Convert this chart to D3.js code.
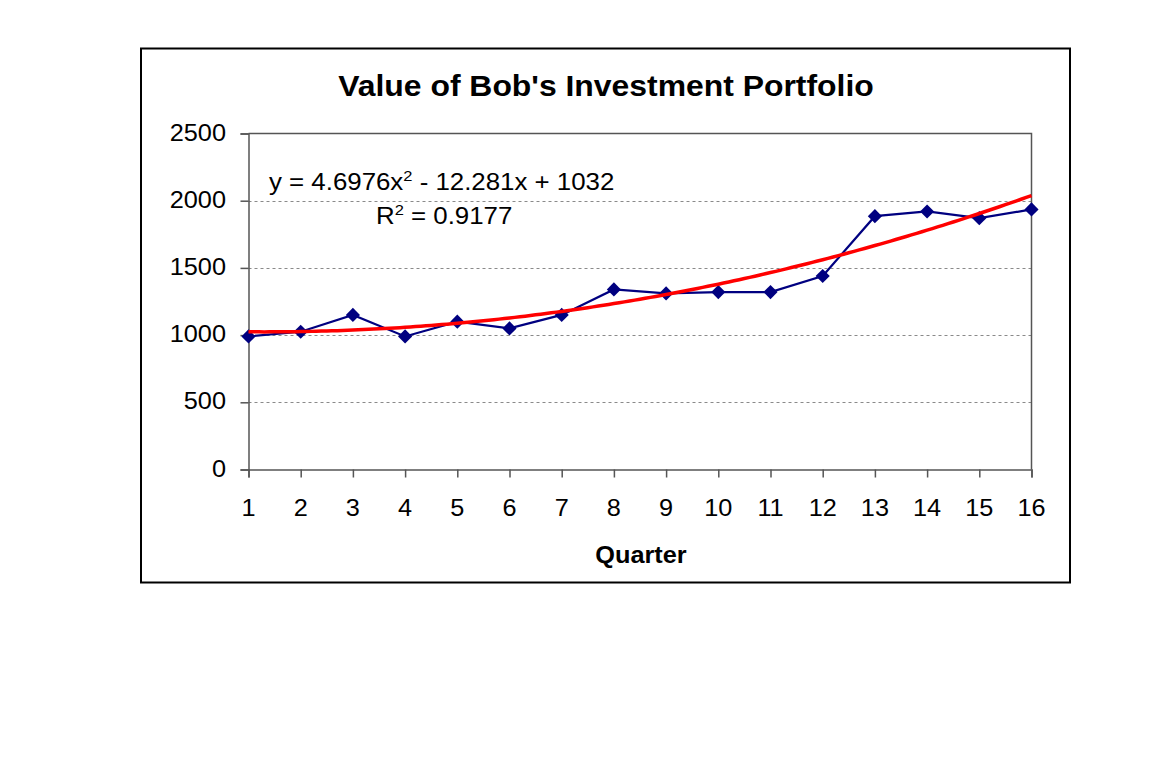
<!DOCTYPE html>
<html><head><meta charset="utf-8">
<script src="https://cdn.jsdelivr.net/npm/d3@7"></script>
<style>body{margin:0;background:#fff}svg{display:block}text{font-family:"Liberation Sans",Arial,sans-serif;fill:#000}</style>
</head><body>
<script>
const quarters = [1,2,3,4,5,6,7,8,9,10,11,12,13,14,15,16];
const values = [990,1025,1150,990,1100,1050,1150,1340,1310,1320,1320,1440,1885,1920,1870,1935];
const yTicks = [0,500,1000,1500,2000,2500];
const trendCoef = [1032,-12.281,4.6976]; // c0 + c1 x + c2 x^2
const titleText = "Value of Bob's Investment Portfolio";
const xTitle = "Quarter";

const W = 1172, H = 766, SX = 1.1;
const svg = d3.select("body").append("svg").attr("width",W).attr("height",H);

// outer frame
svg.append("rect").attr("x",141).attr("y",48.5).attr("width",929).attr("height",534)
  .attr("fill","#fff").attr("stroke","#000").attr("stroke-width",2);

const x = d3.scaleLinear().domain([1,16]).range([248.5,1031.5]);
const y = d3.scaleLinear().domain([0,2500]).range([469.5,133.5]);

function stext(px,py,str,size,anchor,weight){
  return svg.append("text").attr("transform",`translate(${px},${py}) scale(${SX},1)`)
    .attr("text-anchor",anchor||"middle").attr("font-size",size).attr("font-weight",weight||"normal").text(str);
}

// gridlines
svg.append("g").selectAll("line").data(yTicks.filter(d=>d>0&&d<2500)).join("line")
  .attr("x1",x(1)).attr("x2",x(16)).attr("y1",d=>Math.round(y(d))+0.5).attr("y2",d=>Math.round(y(d))+0.5)
  .attr("stroke","#8a8a8a").attr("stroke-width",1.2).attr("stroke-dasharray","3,3");

// plot border (top & right)
svg.append("path").attr("d",`M${x(1)},${y(2500)}H${x(16)}V${y(0)}`).attr("fill","none")
  .attr("stroke","#555").attr("stroke-width",1.5);

// axes
const yAxis = d3.axisLeft(y).tickValues(yTicks).tickSize(8).tickFormat("");
svg.append("g").attr("transform",`translate(${x(1)},0)`).call(yAxis)
  .call(g=>g.selectAll("line,path").attr("stroke","#555").attr("stroke-width",1.5));
const xAxis = d3.axisBottom(x).tickValues(quarters).tickSize(8).tickSizeOuter(8).tickFormat("");
svg.append("g").attr("transform",`translate(0,${y(0)})`).call(xAxis)
  .call(g=>g.selectAll("line,path").attr("stroke","#555").attr("stroke-width",1.5));

// tick labels
yTicks.forEach(t=>stext(226,y(t)+7,String(t),23,"end"));
quarters.forEach(q=>stext(x(q),516,String(q),23,"middle"));

// titles
stext(606,96,titleText,29,"middle","bold");
stext(641,563,xTitle,23,"middle","bold");

// data line
svg.append("path").datum(quarters.map((q,i)=>[q,values[i]]))
  .attr("d",d3.line().x(d=>x(d[0])).y(d=>y(d[1])))
  .attr("fill","none").attr("stroke","#000080").attr("stroke-width",2.2);

// markers
svg.append("g").selectAll("path").data(quarters.map((q,i)=>[q,values[i]])).join("path")
  .attr("transform",d=>`translate(${x(d[0])},${y(d[1])}) rotate(45)`)
  .attr("d",d3.symbol(d3.symbolSquare,100)).attr("fill","#000080");

// trendline
const tx = d3.range(1,16.001,0.1);
svg.append("path").datum(tx.map(v=>[v,trendCoef[0]+trendCoef[1]*v+trendCoef[2]*v*v]))
  .attr("d",d3.line().x(d=>x(d[0])).y(d=>y(d[1])))
  .attr("fill","none").attr("stroke","#ff0000").attr("stroke-width",3.5);

// equation
const eq = svg.append("text").attr("transform",`translate(269,190) scale(${SX},1)`).attr("font-size",23.5);
eq.append("tspan").text("y = 4.6976x");
eq.append("tspan").attr("font-size",15).attr("dy",-9).text("2");
eq.append("tspan").attr("dy",9).text(" - 12.281x + 1032");
const r2 = svg.append("text").attr("transform",`translate(376,224) scale(${SX},1)`).attr("font-size",23.5);
r2.append("tspan").text("R");
r2.append("tspan").attr("font-size",15).attr("dy",-9).text("2");
r2.append("tspan").attr("dy",9).text(" = 0.9177");
</script>
</body></html>
